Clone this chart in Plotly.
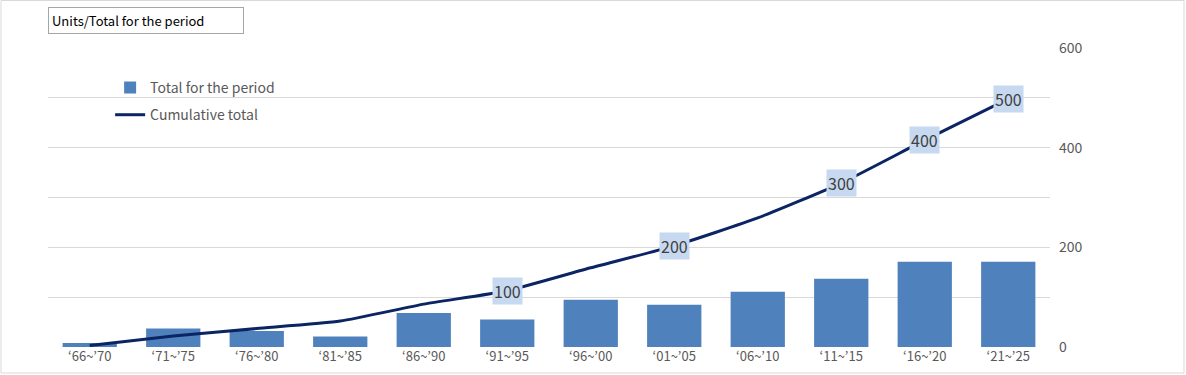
import plotly.graph_objects as go

categories = ["‘66~’70", "‘71~’75", "‘76~’80", "‘81~’85", "‘86~’90", "‘91~’95",
              "‘96~’00", "‘01~’05", "‘06~’10", "‘11~’15", "‘16~’20", "‘21~’25"]
period_totals = [4, 18.5, 16, 10.5, 34, 27.5, 47.5, 42.5, 55.5, 68.5, 85.5, 85.5]
cumulative = [3, 22, 37, 52, 86, 113, 159, 203, 259, 329, 415, 498]
milestone_idx = [5, 7, 9, 10, 11]
milestone_text = ["100", "200", "300", "400", "500"]
right_ticks = [0, 200, 400, 600]

FONT = "Noto Sans CJK JP"
GRAY = "#595959"

fig = go.Figure()
fig.add_trace(go.Bar(
    x=categories, y=period_totals, name="Total for the period",
    marker=dict(color="#4f81bd", line=dict(width=0)), width=0.65,
    yaxis="y", legendgroup="a",
))
fig.add_trace(go.Scatter(
    x=categories, y=cumulative, name="Cumulative total", mode="lines",
    line=dict(color="#0b2463", width=3, shape="spline", smoothing=0.5),
    yaxis="y2", legendgroup="b",
))

annotations = []
for i, t in zip(milestone_idx, milestone_text):
    annotations.append(dict(
        x=categories[i], y=cumulative[i], xref="x", yref="y2", text=t,
        showarrow=False, font=dict(family=FONT, size=16, color="#404040"),
        bgcolor="#c6d9f0", borderpad=1, xanchor="center", yanchor="middle",
    ))

annotations.append(dict(
    x=0, y=(347 - 7) / 299, xref="paper", yref="paper", xanchor="left", yanchor="top",
    text="Units/Total for the period", showarrow=False, align="left",
    width=188, height=19, borderpad=3, bordercolor="#a6a6a6", borderwidth=1,
    font=dict(family=FONT, size=13, color="#000000"),
))

fig.update_layout(
    width=1186, height=375,
    margin=dict(l=48, r=136, t=48, b=28, autoexpand=False),
    paper_bgcolor="white", plot_bgcolor="white",
    font=dict(family=FONT, color=GRAY, size=13),
    showlegend=True,
    legend=dict(x=0.062, y=0.92, xanchor="left", yanchor="top",
                bgcolor="rgba(0,0,0,0)", font=dict(family=FONT, size=14, color=GRAY),
                traceorder="grouped", tracegroupgap=6, itemwidth=30),
    xaxis=dict(type="category", showgrid=False, showline=False, zeroline=False,
               automargin=False,
               ticks="", tickfont=dict(family=FONT, size=13, color=GRAY)),
    yaxis=dict(range=[0, 300], tickvals=[0, 50, 100, 150, 200, 250, 300],
               showticklabels=False, showgrid=True, gridcolor="#d9d9d9",
               gridwidth=1, zeroline=False, ticks="", automargin=False),
    yaxis2=dict(range=[0, 600], overlaying="y", side="right", tickvals=right_ticks,
                showgrid=False, zeroline=False, ticks="", ticklabelstandoff=8,
                automargin=False,
                tickfont=dict(family=FONT, size=14, color=GRAY)),
    annotations=annotations,
    bargap=0.35,
    shapes=[dict(type="rect", xref="paper", yref="paper",
                 x0=(1 - 48) / 1002, x1=(1184 - 48) / 1002,
                 y0=(347 - 373) / 299, y1=(347 - 0.5) / 299,
                 line=dict(color="#d9d9d9", width=1), fillcolor="rgba(0,0,0,0)")],
)

fig.write_html("out.html", config={"displayModeBar": False},
               post_script="document.body.style.margin='0';document.body.style.overflow='hidden';")
